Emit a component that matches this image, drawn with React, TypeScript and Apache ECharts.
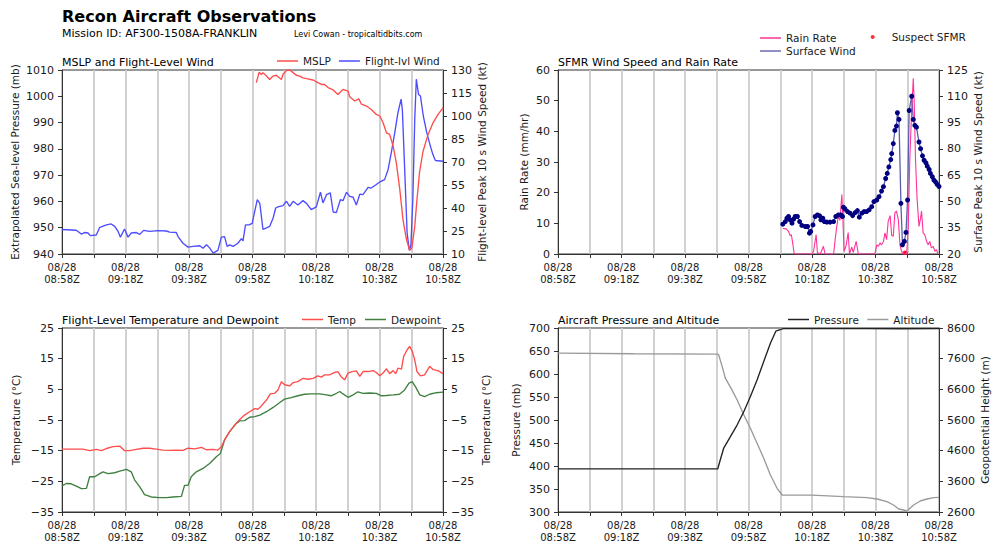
import React, { useEffect, useRef } from "react";
import * as echarts from "echarts";

const FONT = '"DejaVu Sans", sans-serif';

// ---------- Panel 1: MSLP and Flight-Level Wind ----------
const windTime = [0, 4.5, 6.1, 7.1, 8.2, 8.9, 10.8, 11.9, 14.0, 15.5, 16.6, 17.6, 18.4, 19.7, 20.8, 21.8, 23.4, 24.5, 25.7, 27.6, 30.2, 32.9, 33.9, 36.0, 36.5, 38.1, 39.7, 41.3, 43.4, 44.4, 45.5, 46.5, 47.6, 49.1, 50.2, 51.2, 52.0, 52.8, 53.9, 55.4, 56.5, 57.0, 57.8, 58.9, 59.9, 60.7, 61.5, 62.3, 63.3, 64.4, 65.4, 66.5, 67.3, 68.0, 69.6, 70.7, 71.7, 72.8, 74.3, 75.9, 77.0, 78.5, 80.1, 81.4, 82.2, 83.3, 84.5, 85.4, 86.4, 87.7, 88.5, 89.6, 90.6, 91.7, 92.7, 93.8, 94.8, 96.4, 97.4, 99.0, 100.1, 101.6, 102.7, 103.7, 104.8, 105.8, 106.8, 107.2, 107.9, 108.7, 109.4, 109.9, 110.5, 111.1, 111.6, 112.3, 112.9, 113.8, 114.8, 115.8, 116.8, 117.6, 120];
const windKt = [26, 25.5, 23, 24, 23.7, 22, 22.4, 27.4, 29, 29.6, 28, 25, 21, 26.3, 21, 23.7, 24, 22.8, 25.4, 24.8, 25.2, 25, 24.3, 24, 21.5, 17, 14.5, 15, 15.4, 13.7, 16, 14, 10.6, 12.4, 21, 21.3, 15, 16, 15, 17, 20, 18.5, 29, 29, 30, 37.8, 45.5, 43, 26, 27, 28, 33.5, 40, 40.7, 41.5, 44.4, 41, 44.4, 42, 44.8, 43, 39, 40.7, 50.3, 43.3, 48.7, 49.8, 37.4, 37, 45.5, 44.8, 50.3, 47.6, 47, 42, 49, 48.7, 53.5, 53, 55.3, 57, 58.5, 65, 76, 89, 102, 111, 104, 67, 23.7, 12.4, 16, 45.5, 97.8, 124, 114, 113, 100, 90, 82, 75, 71, 70.5];
const mslpTime = [61.2, 62.1, 62.8, 63.3, 64.4, 65.4, 66.5, 67.5, 69.1, 69.6, 70.7, 71.7, 72.8, 73.8, 74.9, 75.9, 77.0, 79.1, 80.6, 81.7, 82.7, 83.8, 85.4, 86.9, 88.5, 90.1, 90.6, 92.2, 93.5, 94.3, 95.9, 97.4, 99.0, 100.1, 101.1, 102.2, 103.2, 104.3, 105.3, 106.4, 107.4, 108.5, 109.5, 110.2, 111.1, 111.8, 112.6, 113.7, 115.3, 116.9, 118.4, 120];
const mslpMb = [1005.2, 1009.2, 1008.3, 1009, 1007.7, 1006.4, 1007.7, 1008, 1006.4, 1008.3, 1009.9, 1010, 1009, 1008, 1007.7, 1007, 1006.7, 1006.2, 1005.2, 1004.5, 1004.5, 1003.3, 1002.4, 1000.7, 1002.6, 1002, 999.8, 998.2, 999, 997, 996.3, 995, 993.1, 992.5, 990, 986.1, 985.5, 981, 974.7, 964.5, 953, 945.5, 941.4, 942.3, 950.5, 960.7, 971, 979, 985.5, 990, 993, 995.6];

// ---------- Panel 2: SFMR Wind Speed and Rain Rate ----------
const sfmrTime = [70.8, 71.6, 72.1, 72.6, 73.1, 73.7, 74.2, 74.7, 75.4, 76.1, 76.8, 77.9, 78.6, 79.2, 79.6, 80.3, 81.0, 81.7, 82.4, 82.8, 83.4, 83.9, 84.7, 85.7, 86.8, 87.5, 88.3, 89.1, 89.6, 89.9, 90.4, 91.2, 92.0, 92.8, 93.6, 94.3, 94.9, 95.7, 96.4, 97.2, 98.0, 98.8, 99.5, 100.4, 101.1, 101.9, 102.5, 103.2, 103.7, 104.2, 104.8, 105.1, 105.6, 106.1, 106.6, 106.9, 107.4, 108.0, 108.5, 109.1, 109.6, 110.1, 110.6, 111.4, 111.9, 112.4, 112.9, 113.7, 114.2, 114.8, 115.3, 115.9, 116.3, 116.9, 117.3, 117.9, 118.4, 118.9, 119.4, 120];
const sfmrKt = [37.0, 38.5, 40.4, 41.4, 39.5, 37.6, 39.9, 41.4, 41.4, 38.5, 36.3, 35.7, 35.7, 31.9, 32.9, 36.6, 41.4, 42.3, 41.8, 39.5, 40.4, 38.5, 38.2, 38.2, 38.5, 41.4, 42.3, 42.3, 41.4, 46.7, 45.7, 44.2, 43.3, 41.9, 43.6, 44.8, 41, 43.3, 44.2, 44.2, 45.2, 47.0, 49.9, 50.8, 52.7, 55.9, 58.4, 63.1, 66, 69.7, 73.9, 77.3, 83, 90.5, 93, 100.6, 96.8, 48.9, 25.3, 27.2, 32.3, 50.8, 101.9, 110, 96.8, 93.4, 92.4, 83.9, 80.1, 76, 73.5, 72, 70.1, 68.2, 66, 64.1, 62.2, 61.2, 59.8, 58.5];
const rainTime = [70.8, 71.9, 72.6, 73.1, 73.5, 74.0, 74.4, 80.0, 80.5, 81.3, 81.7, 82.6, 83.6, 84.1, 86.8, 87.3, 87.8, 88.3, 88.8, 89.4, 89.7, 90.1, 90.7, 91.4, 91.8, 92.5, 93.0, 93.9, 94.6, 99.8, 100.4, 100.9, 101.4, 101.9, 102.5, 103.0, 103.5, 104.0, 104.6, 105.1, 105.6, 106.1, 106.6, 107.2, 107.7, 108.2, 108.7, 109.8, 110.3, 110.8, 111.4, 111.9, 112.2, 112.6, 113.1, 113.7, 114.2, 114.5, 115.0, 115.5, 116.1, 116.6, 117.1, 117.6, 118.2, 118.7, 119.2, 119.7];
const rainMm = [8.3, 8.2, 7.4, 6, 6.3, 3, 0, 0, 0.9, 6.3, 0.5, 0, 2.5, 0, 0, 4.7, 9, 12.3, 11, 19.4, 12.3, 0.9, 2.5, 7, 0, 2.2, 0.5, 4.1, 0, 0, 3, 2.5, 3.6, 3, 4.1, 6.9, 4.7, 10.7, 12.5, 6, 5.8, 13.4, 14, 11.2, 3, 0.9, 0, 0, 8, 30.8, 47, 57.3, 49.3, 30.8, 17.8, 9, 11.8, 14, 6.9, 6.3, 4.1, 3, 4.1, 2, 2.5, 0.9, 1.4, 0];
const suspectTime = [109.2, 109.6];
const suspectKt = [20.8, 20.6];

// ---------- Panel 3: Flight-Level Temperature and Dewpoint ----------
const tempTime = [0, 6.6, 8.7, 10.8, 12.4, 14.0, 16.1, 18.2, 19.7, 21.3, 23.4, 25.5, 27.6, 29.7, 31.8, 33.9, 36.0, 38.1, 39.7, 41.8, 43.9, 45.5, 47.6, 49.1, 50.2, 51.2, 52.8, 54.4, 56.0, 57.5, 59.1, 60.7, 61.7, 62.8, 64.4, 65.6, 67.0, 68.0, 69.1, 70.1, 71.7, 72.8, 74.3, 75.9, 77.5, 79.1, 80.6, 81.7, 82.7, 84.3, 85.9, 86.9, 88.0, 89.0, 90.1, 91.4, 92.7, 93.8, 94.8, 96.4, 98.0, 99.0, 100.1, 101.1, 102.2, 103.2, 104.3, 105.1, 105.8, 106.9, 107.6, 108.7, 109.5, 110.3, 111.1, 111.8, 112.9, 114.2, 115.8, 116.9, 118.4, 120];
const tempC = [-14.5, -14.5, -15, -14.6, -15, -14.3, -13.7, -13.5, -15, -15, -14.6, -14.2, -14.2, -14.5, -14.8, -14.9, -14.8, -14.9, -14.2, -14.4, -13.9, -14.7, -14.6, -14.8, -13.7, -11.5, -8.8, -6.6, -4.8, -3.4, -2.3, -1.3, -1.5, -0.4, 1.5, 3.5, 3.7, 4.8, 7.5, 6.5, 6.1, 7.2, 7.5, 8.6, 8.3, 8.6, 9.4, 9.0, 9.7, 9.7, 10.5, 10.8, 9.0, 8.1, 10.3, 10.8, 11.0, 9.2, 10.8, 10.8, 11.1, 10.5, 9.4, 10.3, 11.7, 10.1, 11.1, 10.1, 11.9, 11.6, 15.7, 17.9, 19.0, 17.4, 14.6, 10.8, 9.4, 9.7, 12.5, 11.4, 11.1, 10.1];
const dewTime = [0, 1.4, 2.9, 5.0, 6.1, 7.7, 8.7, 10.3, 11.9, 12.9, 14.5, 16.6, 18.2, 20.3, 21.8, 22.9, 24.5, 26.0, 28.1, 30.8, 32.9, 35.0, 37.6, 38.6, 39.7, 40.7, 42.3, 44.4, 46.5, 48.6, 49.9, 51.2, 52.8, 54.9, 56.0, 57.5, 59.1, 60.7, 62.3, 64.4, 66.5, 68.6, 70.1, 72.2, 74.3, 76.4, 78.5, 81.2, 83.3, 84.8, 85.9, 87.5, 88.5, 90.1, 91.7, 93.2, 94.8, 96.9, 99.0, 100.6, 102.2, 104.3, 106.3, 107.9, 109.3, 110.3, 111.4, 112.7, 114.2, 115.8, 117.9, 120];
const dewC = [-26.5, -25.7, -25.8, -26.8, -27.4, -27.3, -23.5, -23.5, -22.5, -21.9, -22.5, -22.2, -21.7, -21.1, -21.9, -24.6, -26.8, -29.3, -30.1, -30.3, -30.3, -30.1, -29.9, -26.3, -26.3, -23.5, -21.9, -20.8, -19.2, -17, -15.9, -11.5, -8.8, -6.1, -5.3, -5.2, -4.1, -3.9, -3.4, -2.3, -0.9, 0.7, 1.8, 2.3, 2.9, 3.4, 3.5, 3.5, 3.2, 2.9, 3.4, 4.3, 3.5, 2.4, 3.2, 4.2, 3.7, 3.8, 3.7, 2.9, 3.0, 3.2, 3.4, 4.8, 7.0, 7.5, 5.7, 3.2, 2.6, 3.4, 3.9, 4.1];

// ---------- Panel 4: Aircraft Pressure and Altitude ----------
const presTime = [0, 50.3, 51.1, 52.2, 54.3, 56.4, 58.5, 60.6, 62.7, 64.8, 66.9, 68.6, 70.9, 76.3, 86.8, 97.3, 107.8, 120];
const presMb = [393.6, 393.6, 413, 439, 464, 489, 518, 551, 587, 627, 667, 693, 698.5, 698.5, 698.8, 698.5, 698.3, 698.5];
const altTime = [0, 23.8, 50.1, 50.6, 51.7, 52.7, 54.3, 56.4, 58.5, 60.6, 62.7, 64.8, 66.9, 69.0, 70.6, 80.0, 90.0, 97.3, 100.5, 103.6, 105.7, 107.3, 108.9, 109.9, 112.0, 114.1, 116.2, 118.3, 120];
const altM = [7783, 7761, 7750, 7729, 7348, 6967, 6673, 6259, 5769, 5333, 4843, 4353, 3808, 3373, 3155, 3150, 3101, 3068, 3024, 2937, 2828, 2698, 2665, 2632, 2828, 2959, 3024, 3068, 3079];

// ---------- Tick labels ----------
const windTicks = [10, 25, 40, 55, 70, 85, 100, 115, 130];
const sfmrTicks = [20, 35, 50, 65, 80, 95, 110, 125];
const tempTicks = [-35, -25, -15, -5, 5, 15, 25];
const altTicks = [2600, 3600, 4600, 5600, 6600, 7600, 8600];
const startMinutes = 8 * 60 + 58;
const dateLabel = "08/28";

const zip = (t: number[], v: number[]) => t.map((x, i) => [x, v[i]]);

const timeLabel = (v: number) => {
  const t = startMinutes + v;
  const hh = String(Math.floor(t / 60)).padStart(2, "0");
  const mm = String(t % 60).padStart(2, "0");
  return `${dateLabel}\n${hh}:${mm}Z`;
};

const GRIDS = [
  { left: 62, top: 70, width: 381, height: 184 },
  { left: 558, top: 70, width: 381, height: 184 },
  { left: 62, top: 328, width: 381, height: 184 },
  { left: 558, top: 328, width: 381, height: 184 },
];

const AXC = "#333";
const TXT = "#1a1a1a";
const LW = 1.35;

function xAxis(gridIndex: number) {
  return {
    type: "value",
    gridIndex,
    min: 0,
    max: 120,
    interval: 10,
    axisLine: { show: true, onZero: false, lineStyle: { color: AXC, width: 1 } },
    axisTick: { show: true, length: 4, lineStyle: { color: AXC } },
    axisLabel: {
      fontSize: 10,
      lineHeight: 12,
      color: TXT,
      fontFamily: FONT,
      margin: 7,
      showMinLabel: true,
      showMaxLabel: true,
      formatter: (v: number) => (Math.round(v) % 20 === 0 ? timeLabel(Math.round(v)) : ""),
    },
    splitLine: { show: true, lineStyle: { color: "#cdcdcd", width: 1.8 } },
  };
}

const numFmt = (v: number) => String(v).replace("-", "\u2212");

function yAxis(
  gridIndex: number,
  position: "left" | "right",
  min: number,
  max: number,
  name: string,
  nameGap: number,
  extra: any = {}
) {
  const custom = extra.custom as number[] | undefined;
  return {
    type: "value",
    gridIndex,
    position,
    min,
    max,
    ...(extra.interval ? { interval: extra.interval } : {}),
    axisLine: { show: true, onZero: false, lineStyle: { color: AXC, width: 1 } },
    axisTick: {
      show: true,
      length: 4,
      lineStyle: { color: AXC },
      ...(custom ? { customValues: custom } : {}),
    },
    axisLabel: {
      fontSize: 11,
      color: TXT,
      fontFamily: FONT,
      margin: 8,
      formatter: numFmt,
      ...(custom ? { customValues: custom } : {}),
    },
    splitLine: { show: false },
    name,
    nameLocation: "middle",
    nameRotate: 90,
    nameGap,
    nameTextStyle: { fontSize: 10.5, color: TXT, fontFamily: FONT },
  };
}

function lineSeries(name: string, x: number, y: number, data: number[][], color: string, extra: any = {}) {
  return {
    type: "line",
    name,
    xAxisIndex: x,
    yAxisIndex: y,
    data,
    symbol: "none",
    showSymbol: false,
    lineStyle: { color, width: LW },
    itemStyle: { color },
    silent: true,
    ...extra,
  };
}

const legendText = { fontSize: 10.5, color: TXT, fontFamily: FONT };
function legend(data: any[], left: number, top: number, itemGap: number, extra: any = {}) {
  return {
    data,
    left,
    top,
    padding: 0,
    itemGap,
    itemWidth: 21,
    itemHeight: 1.5,
    icon: "rect",
    selectedMode: false,
    textStyle: legendText,
    ...extra,
  };
}

function text(x: number, y: number, t: string, size: number, weight: string = "normal") {
  return {
    type: "text",
    x,
    y,
    silent: true,
    style: {
      text: t,
      fontSize: size,
      fontWeight: weight,
      fontFamily: FONT,
      fill: "#000",
      verticalAlign: "middle",
      align: "left",
    },
  };
}

export default function App() {
  const ref = useRef<HTMLDivElement>(null);
  useEffect(() => {
    if (!ref.current) return;
    const chart = echarts.init(ref.current, undefined, { renderer: "svg" });
    const option: any = {
      animation: false,
      backgroundColor: "#ffffff",
      textStyle: { fontFamily: FONT },
      grid: GRIDS.map((g) => ({ ...g, show: true, borderColor: AXC, borderWidth: 1, containLabel: false })),
      xAxis: [xAxis(0), xAxis(1), xAxis(2), xAxis(3)],
      yAxis: [
        yAxis(0, "left", 940, 1010, "Extrapolated Sea-level Pressure (mb)", 42, { interval: 10 }),
        yAxis(0, "right", 10, 130, "Flight-level Peak 10 s Wind Speed (kt)", 33, { custom: windTicks }),
        yAxis(1, "left", 0, 60, "Rain Rate (mm/hr)", 29, { interval: 10 }),
        yAxis(1, "right", 20, 125, "Surface Peak 10 s Wind Speed (kt)", 33, { custom: sfmrTicks }),
        yAxis(2, "left", -35, 25, "Temperature (°C)", 41, { custom: tempTicks }),
        yAxis(2, "right", -35, 25, "Temperature (°C)", 37, { custom: tempTicks }),
        yAxis(3, "left", 300, 700, "Pressure (mb)", 37, { interval: 50 }),
        yAxis(3, "right", 2600, 8600, "Geopotential Height (m)", 40, { custom: altTicks }),
      ],
      legend: [
        legend(["MSLP", "Flight-lvl Wind"], 277, 55.5, 8),
        legend(["Rain Rate", { name: "Surface Wind", itemStyle: { color: "#6b6bb5" } }], 760, 32.5, 2, { orient: "vertical" }),
        legend(["Suspect SFMR"], 870.7, 31.5, 2, {
          icon: "circle",
          itemWidth: 4,
          itemHeight: 4,
          textStyle: { ...legendText, padding: [0, 0, 0, 12] },
        }),
        legend(["Temp", "Dewpoint"], 302, 314, 9),
        legend(["Pressure", "Altitude"], 788, 314, 8.5),
      ],
      graphic: [
        text(62, 16, "Recon Aircraft Observations", 16, "bold"),
        text(62, 33, "Mission ID: AF300-1508A-FRANKLIN", 11),
        text(294, 34.5, "Levi Cowan - tropicaltidbits.com", 8),
        text(62, 62, "MSLP and Flight-Level Wind", 11),
        text(558, 62, "SFMR Wind Speed and Rain Rate", 11),
        text(62, 320, "Flight-Level Temperature and Dewpoint", 11),
        text(558, 320, "Aircraft Pressure and Altitude", 11),
      ],
      series: [
        lineSeries("Flight-lvl Wind", 0, 1, zip(windTime, windKt), "#4d4dff"),
        lineSeries("MSLP", 0, 0, zip(mslpTime, mslpMb), "#ff4d4d"),
        lineSeries("Surface Wind", 1, 3, zip(sfmrTime, sfmrKt), "#000080", {
          symbol: "circle",
          showSymbol: true,
          symbolSize: 5,
          lineStyle: { color: "#5c5cad", width: 1.3 },
          itemStyle: { color: "#000080" },
        }),
        lineSeries("Rain Rate", 1, 2, zip(rainTime, rainMm), "#ff3399", { lineStyle: { color: "#ff3399", width: 1.1 } }),
        {
          type: "scatter",
          name: "Suspect SFMR",
          xAxisIndex: 1,
          yAxisIndex: 3,
          data: zip(suspectTime, suspectKt),
          symbolSize: 4,
          itemStyle: { color: "#ff0000" },
          silent: true,
        },
        lineSeries("Dewpoint", 2, 4, zip(dewTime, dewC), "#3f7f3f"),
        lineSeries("Temp", 2, 4, zip(tempTime, tempC), "#ff4d4d"),
        lineSeries("Altitude", 3, 7, zip(altTime, altM), "#9a9a9a"),
        lineSeries("Pressure", 3, 6, zip(presTime, presMb), "#222222"),
      ],
    };
    chart.setOption(option);
    return () => chart.dispose();
  }, []);
  return (
    <div
      ref={ref}
      style={{ position: "absolute", left: 0, top: 0, width: 1000, height: 552, background: "#fff" }}
    />
  );
}
